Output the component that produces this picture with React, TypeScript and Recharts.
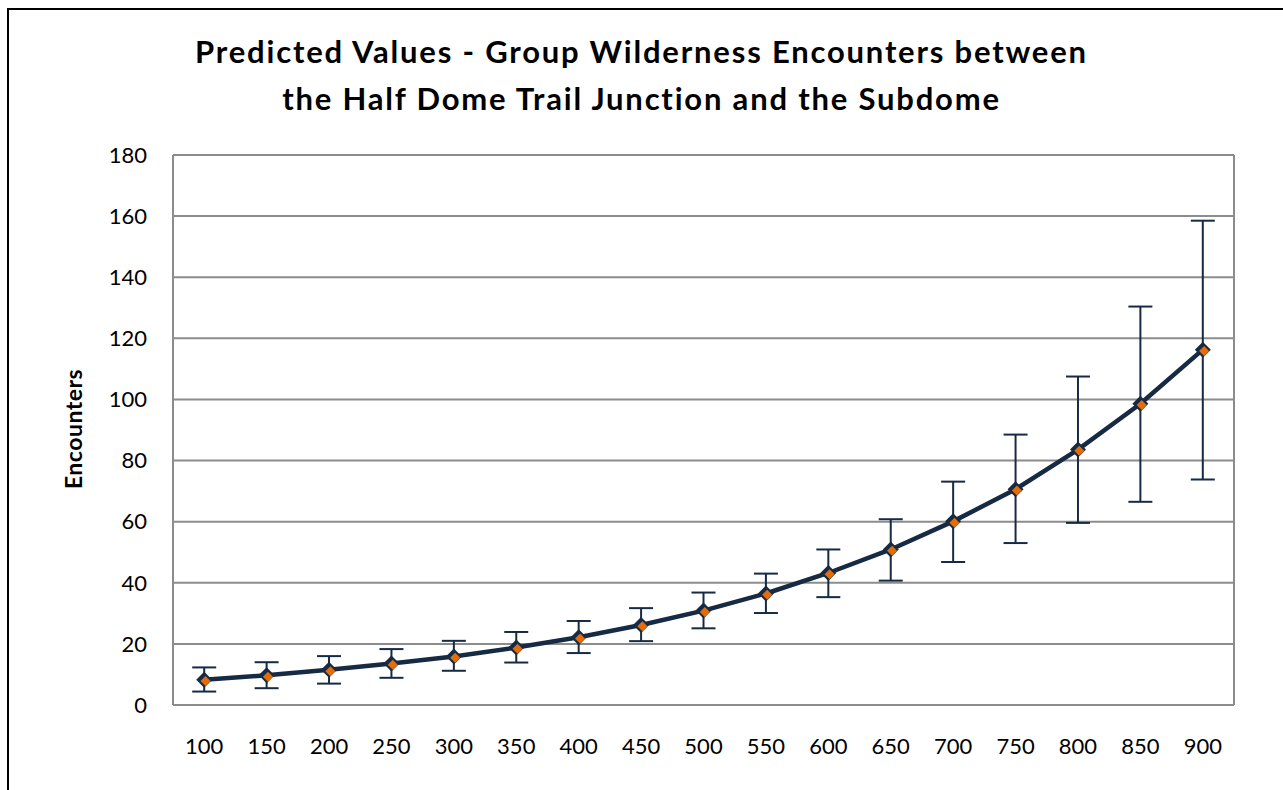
import React from 'react';
import { LineChart, Line, XAxis, YAxis, CartesianGrid, ErrorBar } from 'recharts';

const xLabels = ['100', '150', '200', '250', '300', '350', '400', '450', '500', '550', '600', '650', '700', '750', '800', '850', '900'];
const predicted = [8.3, 9.7, 11.5, 13.6, 15.9, 18.8, 22.2, 26.2, 30.9, 36.5, 43.2, 50.9, 60.1, 70.6, 83.6, 98.6, 116.3];
const upperCI = [12.3, 14.0, 16.0, 18.3, 21.0, 23.9, 27.5, 31.7, 36.8, 43.0, 50.9, 60.8, 73.1, 88.5, 107.5, 130.4, 158.5];
const lowerCI = [4.4, 5.5, 7.0, 8.9, 11.2, 13.9, 17.0, 20.9, 25.1, 30.1, 35.3, 40.7, 46.8, 53.0, 59.6, 66.5, 73.8];
const yTicks = [0, 20, 40, 60, 80, 100, 120, 140, 160, 180];

const titleLines = ['Predicted Values - Group Wilderness Encounters between', 'the Half Dome Trail Junction and the Subdome'];
const yAxisTitle = 'Encounters';

const data = xLabels.map((x, i) => ({
  x,
  y: predicted[i],
  err: [predicted[i] - lowerCI[i], upperCI[i] - predicted[i]],
}));

const NAVY = '#162a44';
const ORANGE = '#e46c0a';
const GRID = '#8c8c8c';
const FONT = "Lato, 'Open Sans', sans-serif";

const Diamond = (props: any) => {
  const { cx, cy, index } = props;
  if (cx == null || cy == null) return <g key={`d-${index}`} />;
  const o = 8;
  const i = 5;
  const ox = cx + 1.3;
  const oy = cy + 1.3;
  return (
    <g key={`d-${index}`}>
      <polygon points={`${cx},${cy - o} ${cx + o},${cy} ${cx},${cy + o} ${cx - o},${cy}`} fill={NAVY} />
      <polygon points={`${ox},${oy - i} ${ox + i},${oy} ${ox},${oy + i} ${ox - i},${oy}`} fill={ORANGE} />
    </g>
  );
};

export default function App() {
  return (
    <div style={{ position: 'fixed', left: 0, top: 0, width: 1283, height: 790, overflow: 'hidden', background: '#fff', fontFamily: FONT }}>
      <div style={{ position: 'absolute', left: 7, top: 8, width: 1400, height: 900, borderLeft: '2px solid #000', borderTop: '2px solid #000' }} />
      <div style={{ position: 'absolute', left: 0, top: 28, width: 1283, textAlign: 'center', fontWeight: 700, fontSize: 31, letterSpacing: '1.8px', lineHeight: '46.7px', color: '#000' }}>
        {titleLines.map((t) => (
          <div key={t}>{t}</div>
        ))}
      </div>
      <div style={{ position: 'absolute', left: 73, top: 429, transform: 'translate(-50%, -50%) rotate(-90deg)', whiteSpace: 'nowrap', fontWeight: 700, fontSize: 23, letterSpacing: '0.5px', color: '#000' }}>
        {yAxisTitle}
      </div>
      <div style={{ position: 'absolute', left: 0, top: 0 }}>
        <LineChart width={1283} height={790} data={data} margin={{ top: 155, right: 49, bottom: 0, left: 0 }}>
          <CartesianGrid
            stroke={GRID}
            strokeWidth={2}
            vertical={true}
            verticalCoordinatesGenerator={(p: any) => [p.offset.left, p.offset.left + p.offset.width]}
          />
          <XAxis
            dataKey="x"
            scale="band"
            height={85}
            axisLine={false}
            tickLine={false}
            tickSize={0}
            tickMargin={33}
            interval={0}
            tick={{ fill: '#000', fontSize: 22, fontFamily: FONT }}
          />
          <YAxis
            width={173}
            domain={[0, 180]}
            ticks={yTicks}
            axisLine={false}
            tickLine={false}
            tickSize={0}
            tickMargin={26}
            interval={0}
            tick={{ fill: '#000', fontSize: 22, fontFamily: FONT }}
          />
          <Line
            type="linear"
            dataKey="y"
            stroke={NAVY}
            strokeWidth={4.5}
            isAnimationActive={false}
            dot={(p: any) => <Diamond {...p} />}
            activeDot={false}
          >
            <ErrorBar dataKey="err" direction="y" width={12} strokeWidth={2} stroke={NAVY} isAnimationActive={false} />
          </Line>
        </LineChart>
      </div>
    </div>
  );
}
